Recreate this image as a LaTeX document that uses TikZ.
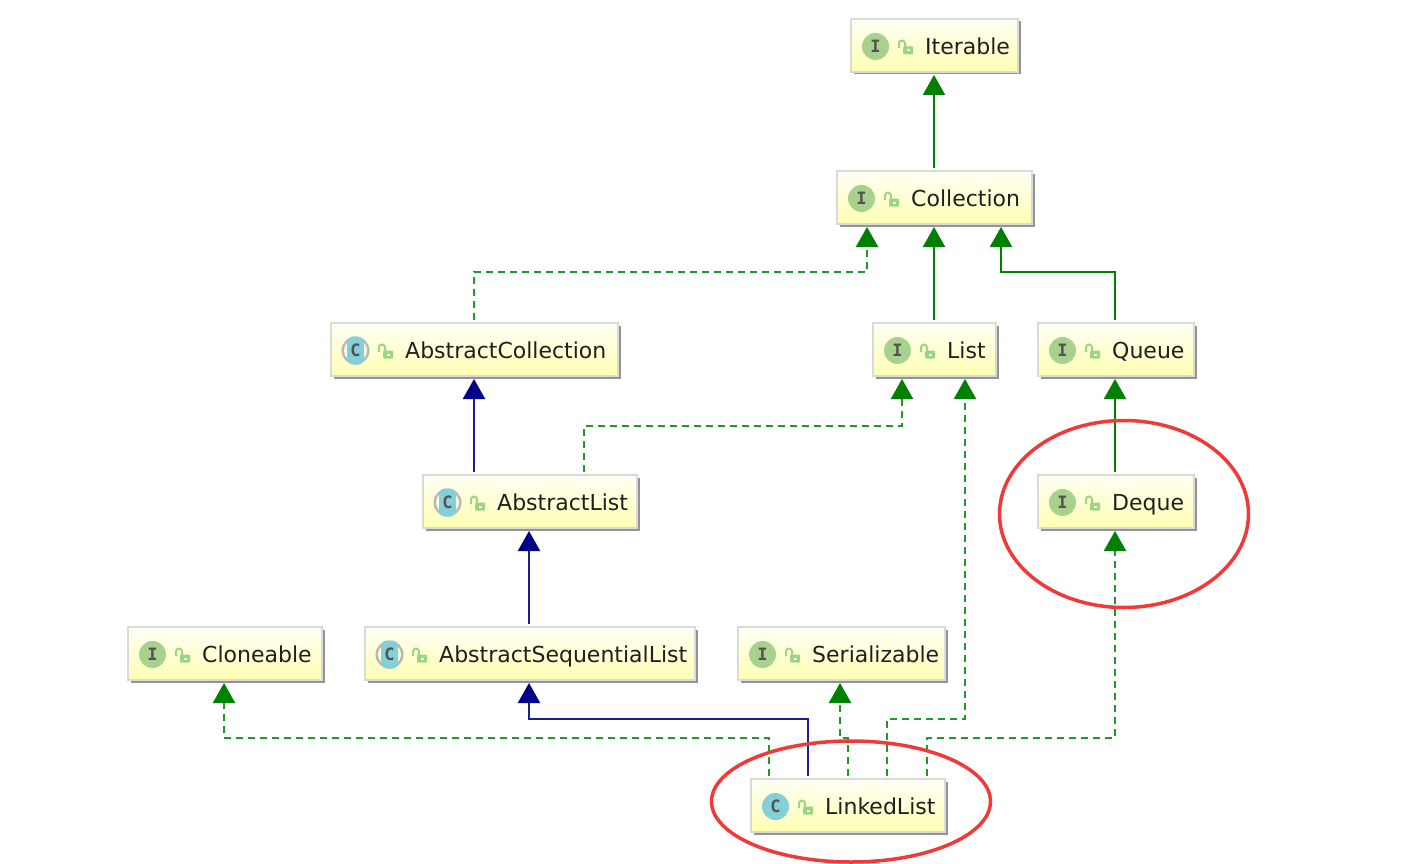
\documentclass[tikz,border=0pt]{standalone}
\usepackage{fontspec}
\setmainfont{DejaVu Sans}
\newfontfamily\iconfont{DejaVu Sans Mono}
\usetikzlibrary{arrows.meta,shadows,shapes.geometric}
\definecolor{inhgreen}{HTML}{008000}
\definecolor{dashgreen}{HTML}{1F9A2A}
\definecolor{extblue}{HTML}{1C1C96}
\definecolor{tipblue}{HTML}{000088}
\definecolor{ifacefill}{HTML}{A9D18E}
\definecolor{classfill}{HTML}{85CFD8}
\definecolor{lockgreen}{HTML}{9CD67F}
\definecolor{markred}{HTML}{F03A3A}
\tikzset{
  x=1pt,y=-1pt,
  umlnode/.style={rectangle,draw=black!15,line width=1.6pt,top color=yellow!4,bottom color=yellow!30,
    outer sep=3pt,inner sep=0pt,
    drop shadow={shadow xshift=2.5pt,shadow yshift=-2.5pt,fill=black!42,opacity=1}},
  umllabel/.style={anchor=base west,inner sep=0pt,font=\fontsize{22}{26}\selectfont,text=black!88},
  iconletter/.style={inner sep=0pt,font=\iconfont\bfseries\fontsize{17}{18}\selectfont,text=black!68},
  solidgreen/.style={draw=inhgreen,line width=2.2pt,-{Triangle[length=20pt,width=22pt]}},
  dashedgreen/.style={draw=dashgreen,line width=2.2pt,dash pattern=on 7pt off 5pt,
    -{Triangle[length=20pt,width=22pt,color=inhgreen]}},
  solidblue/.style={draw=extblue,line width=2.2pt,-{Triangle[length=20pt,width=22pt,color=tipblue]}},
  markring/.style={draw=markred,line width=3.5pt,ellipse,inner sep=0pt,fill=none},
}
% id, x1, y1, x2, y2, icon macro, label
\newcommand\umlbox[7]{%
  \pgfmathsetmacro\bw{#4-#2}\pgfmathsetmacro\bh{#5-#3}%
  \pgfmathsetmacro\cx{(#2+#4)/2}\pgfmathsetmacro\cy{(#3+#5)/2}%
  \node[umlnode,minimum width=\bw pt,minimum height=\bh pt] (#1) at (\cx,\cy) {};
  #6{#1}{#2+24.5}{#3+27.5}%
  \draw[lockgreen,line width=2pt] ({#2+48},{#3+29}) -- ({#2+48},{#3+24.5}) arc[start angle=180,end angle=0,x radius=3,y radius=-3] -- ({#2+54},{#3+28});
  \fill[lockgreen,rounded corners=1pt] ({#2+52},{#3+27.5}) rectangle ({#2+62},{#3+35.5});
  \fill[white] ({#2+56},{#3+30.5}) rectangle ({#2+58.5},{#3+32.5});
  \node[umllabel] (#1-label) at ({#2+74},{#3+35.5}) {#7};
}
\newcommand\ifaceicon[3]{\node[circle,fill=ifacefill,minimum size=27pt,inner sep=0pt,iconletter] (#1-icon) at ({#2},{#3}) {I};}
\newcommand\classicon[3]{\node[circle,fill=classfill,minimum size=27pt,inner sep=0pt,iconletter] (#1-icon) at ({#2},{#3}) {C};}
\newcommand\abstracticon[3]{%
  \fill[black!28] ({#2},{#3}) circle[radius=14];
  \fill[yellow!12] ({#2},{#3}) circle[radius=11.5];
  \fill[classfill,rounded corners=6pt] ({#2-8.5},{#3-14}) rectangle ({#2+8.5},{#3+14});
  \node[iconletter] (#1-icon) at ({#2},{#3}) {C};}
\begin{document}
\begin{tikzpicture}
\useasboundingbox (0,0) rectangle (1421,864);
\fill[white] (0,0) rectangle (1421,864);

\umlbox{iterable}{851}{19}{1018}{72}{\ifaceicon}{Iterable}
\umlbox{collection}{837}{171}{1032}{224}{\ifaceicon}{Collection}
\umlbox{abscoll}{331}{323}{618}{376}{\abstracticon}{AbstractCollection}
\umlbox{list}{873}{323}{996}{376}{\ifaceicon}{List}
\umlbox{queue}{1038}{323}{1194}{376}{\ifaceicon}{Queue}
\umlbox{abslist}{423}{475}{637}{528}{\abstracticon}{AbstractList}
\umlbox{deque}{1038}{475}{1194}{528}{\ifaceicon}{Deque}
\umlbox{cloneable}{128}{627}{322}{680}{\ifaceicon}{Cloneable}
\umlbox{absseq}{365}{627}{695}{680}{\abstracticon}{AbstractSequentialList}
\umlbox{serial}{738}{627}{945}{680}{\ifaceicon}{Serializable}
\umlbox{linked}{751}{779}{945}{832}{\classicon}{LinkedList}

\draw[solidgreen] ([xshift=-.5pt]collection.north) -- ([xshift=-.5pt]iterable.south);
\draw[solidgreen] ([xshift=-.5pt]list.north) -- ([xshift=-.5pt]collection.south);
\draw[solidgreen] ([xshift=-1pt]queue.north) -- ++(0,-48) -| ([xshift=66.5pt]collection.south);
\draw[dashedgreen] ([xshift=-.5pt]abscoll.north) -- ++(0,-48) -| ([xshift=-67.5pt]collection.south);
\draw[solidblue] ([xshift=-.5pt]abscoll.south |- abslist.north) -- ([xshift=-.5pt]abscoll.south);
\draw[dashedgreen] ([xshift=54pt]abslist.north) -- ++(0,-46) -| ([xshift=-32.5pt]list.south);
\draw[solidgreen] ([xshift=-1pt]deque.north) -- ([xshift=-1pt]queue.south);
\draw[solidblue] ([xshift=-1pt]absseq.north) -- ([xshift=-1pt]abslist.south);
\draw[dashedgreen] ([xshift=-79pt]linked.north) -- ++(0,-38) -| ([xshift=-1pt]cloneable.south);
\draw[solidblue] ([xshift=-40pt]linked.north) -- ++(0,-57) -| ([xshift=-1pt]absseq.south);
\draw[dashedgreen] (linked.north) -- ++(0,-38) -| ([xshift=-1.5pt]serial.south);
\draw[dashedgreen] ([xshift=39pt]linked.north) -- ++(0,-57) -| ([xshift=30.5pt]list.south);
\draw[dashedgreen] ([xshift=79pt]linked.north) -- ++(0,-38) -| ([xshift=-1pt]deque.south);

\node[markring,minimum width=249pt,minimum height=187pt] (dequering) at (1124,514) {};
\node[markring,minimum width=279pt,minimum height=121pt] (linkedring) at (851,801.5) {};
\end{tikzpicture}
\end{document}
